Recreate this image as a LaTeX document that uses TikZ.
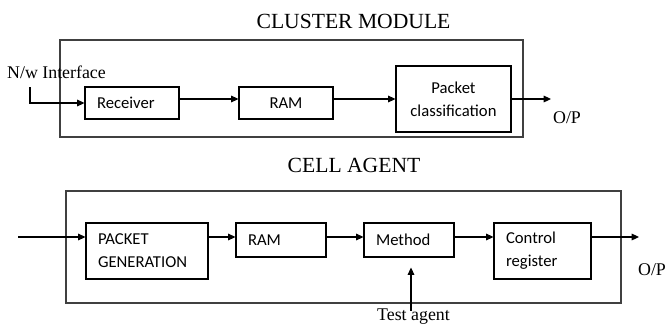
\documentclass[tikz,border=0pt]{standalone}
\usepackage{fontspec}
\setmainfont{Liberation Serif}
\newfontfamily\boxfont{Carlito}
\usetikzlibrary{arrows.meta,fit}

\begin{document}
\begin{tikzpicture}[x=0.75pt, y=-0.75pt,
    blk/.style = {draw, rectangle, line width=0.8pt, inner xsep=9pt,
                  font=\boxfont\fontsize{12.5}{17.25}\selectfont},
    frame/.style = {draw=black!75, line width=1.1pt, inner sep=0pt},
    ttl/.style = {font=\fontsize{16.2}{19}\selectfont},
    lbl/.style = {font=\fontsize{13.4}{16}\selectfont, inner sep=0pt},
    arr/.style = {-{Triangle[length=5.5pt,width=5pt]}, line width=0.8pt}]
\useasboundingbox (0,0) rectangle (665,329);

% cluster module
\node[ttl] (t1) at (353.5,21) {CLUSTER MODULE};
\node[frame, fit={(60,40) (523,137)}] (clus) {};
\node[blk, text width=52.5pt, minimum height=24pt, align=left] (recv) at (132,103) {Receiver};
\node[blk, text width=52.5pt, minimum height=24pt, align=center] (ram1) at (286,103) {RAM};
\node[blk, text width=68.25pt, minimum height=49.5pt, align=center] (pcls) at (453.5,99) {Packet\\classification};
\node[lbl] (nwif) at (56.5,72.5) {N/w Interface};
\node[lbl] (op1) at (567,117.5) {O/P};
\coordinate (in1) at (30,87);
\coordinate (out1) at (551,99);

\draw[arr] (in1) |- (recv.west);
\draw[arr] ([yshift=3pt]recv.east) -- ([yshift=3pt]ram1.west);
\draw[arr] ([yshift=3pt]ram1.east) -- ([yshift=3pt]ram1.east -| pcls.west);
\draw[arr] (pcls.east) -- (out1);

% cell agent
\node[ttl] (t2) at (354,165) {CELL AGENT};
\node[frame, fit={(66,191) (621,303)}] (cell) {};
\node[blk, text width=73.5pt, minimum height=42pt, align=left] (pgen) at (147,251) {PACKET\\GENERATION};
\node[blk, text width=49.5pt, minimum height=25.5pt, align=left] (ram2) at (281,240) {RAM};
\node[blk, text width=49.5pt, minimum height=25.5pt, align=left] (mthd) at (409,240) {Method};
\node[blk, text width=54.75pt, minimum height=42pt, align=left] (creg) at (542.5,251) {Control\\register};
\node[lbl] (tag) at (413.5,317) {Test agent};
\node[lbl] (op2) at (652,270) {O/P};
\coordinate (in2) at (18,237);
\coordinate (out2) at (639,237);
\coordinate (tagtop) at (411,311);

\draw[arr] (in2) -- (in2 -| pgen.west);
\draw[arr] (in2 -| pgen.east) -- (in2 -| ram2.west);
\draw[arr] (in2 -| ram2.east) -- (in2 -| mthd.west);
\draw[arr] (in2 -| mthd.east) -- (in2 -| creg.west);
\draw[arr] (in2 -| creg.east) -- (out2);
\draw[arr] (tagtop) -- ([yshift=-7.5pt]tagtop |- mthd.south);
\end{tikzpicture}
\end{document}
